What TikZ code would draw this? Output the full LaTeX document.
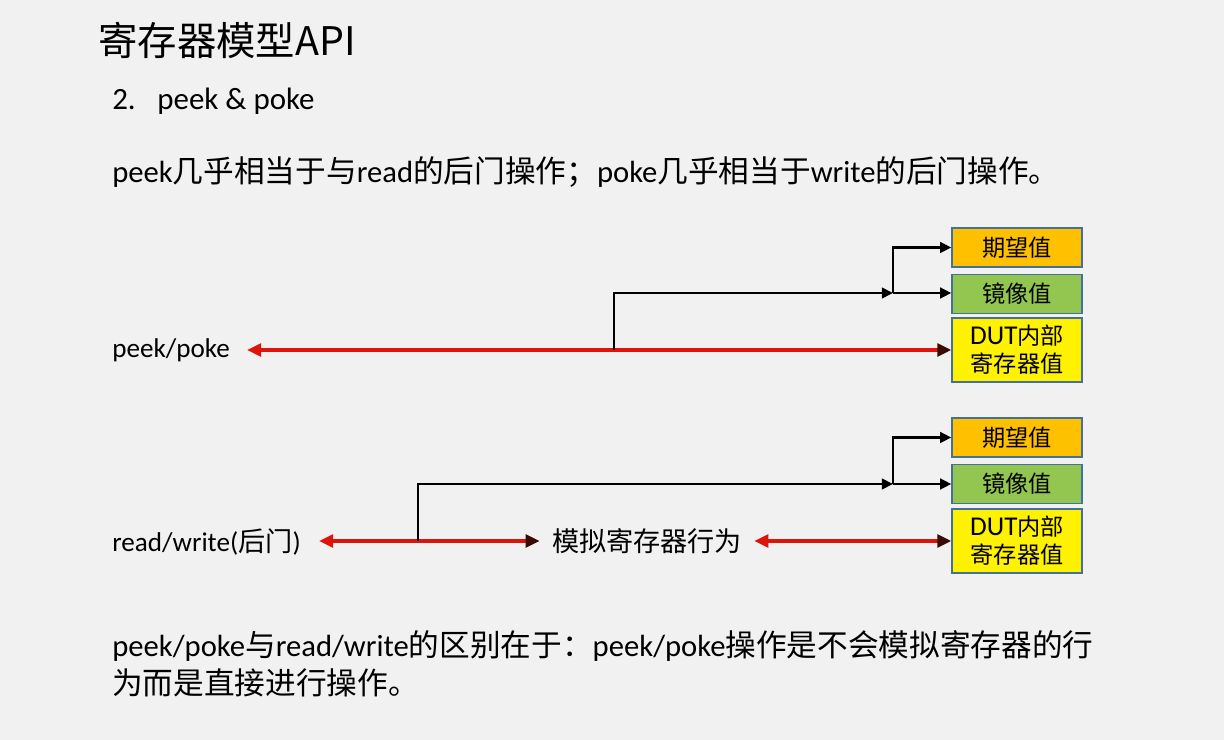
\documentclass[tikz,border=0pt]{standalone}
\usepackage{fontspec}
\setmainfont{Carlito}
\newfontfamily\cjk{Noto Sans CJK SC}
\usetikzlibrary{arrows.meta}

\definecolor{bgcol}{RGB}{241,241,241}
\definecolor{boxline}{RGB}{65,113,156}
\definecolor{expcol}{RGB}{255,192,0}
\definecolor{mircol}{RGB}{146,198,80}
\definecolor{arrred}{RGB}{222,20,10}
\definecolor{tipdark}{RGB}{60,10,5}

\newcommand{\titlefont}{\fontsize{28pt}{32pt}\selectfont\cjk}
\newcommand{\itemfont}{\fontsize{22pt}{26pt}\selectfont}
\newcommand{\bodyfont}{\fontsize{21.8pt}{27pt}\selectfont}
\newcommand{\labelfont}{\fontsize{19.3pt}{23pt}\selectfont}
\newcommand{\valfont}{\fontsize{16.5pt}{20pt}\selectfont}
\newcommand{\dut}{{\fontsize{19.3pt}{20pt}\selectfont DUT}}

\tikzset{
  redtip/.tip={Triangle[length=10pt,width=9pt,color=arrred]},
  darktip/.tip={Triangle[length=10pt,width=9pt,color=tipdark]},
  val/.style={draw=boxline, line width=0.9pt, minimum width=3.25cm, minimum height=0.975cm,
    inner sep=0pt, align=center, font=\valfont},
  txt/.style={anchor=west, inner sep=0pt, font=\bodyfont},
  lbl/.style={anchor=west, inner sep=0pt, font=\labelfont},
  redline/.style={draw=arrred, line width=2.8pt},
  blkline/.style={draw=black, line width=2.1pt, -{Triangle[length=8pt,width=7.5pt]}}
}

\begin{document}
\begin{tikzpicture}[x=0.025cm,y=-0.025cm]
  \fill[bgcol] (0,0) rectangle (1224,740);
  \useasboundingbox (0,0) rectangle (1224,740);

  \node[anchor=west,inner sep=0pt,font=\titlefont] (title) at (98,40) {寄存器模型API};
  \node[anchor=west,inner sep=0pt,font=\itemfont] (item) at (112,101) {2.\hspace{0.54cm}peek \& poke};
  \node[txt] (intro) at (112,172) {peek{\cjk 几乎相当于与}read{\cjk 的后门操作；}poke{\cjk 几乎相当于}write{\cjk 的后门操作。}};

  \node[val,fill=expcol] (exp1) at (1017,247.5) {\cjk 期望值};
  \node[val,fill=mircol] (mir1) at (1017,294) {\cjk 镜像值};
  \node[val,fill=yellow,minimum height=1.6cm] (dut1) at (1017,350) {\dut{\cjk 内部}\\{\cjk 寄存器值}};
  \node[lbl] (pp) at (112,350) {peek/poke};
  \coordinate (j1) at (614,350);
  \coordinate (k1) at (893,293);
  \draw[redline,{redtip}-{darktip}] ([xshift=0.42cm]pp.east) -- (dut1.west);
  \draw[blkline] (j1) |- (k1);
  \draw[blkline] (k1) -- (k1 -| mir1.west);
  \draw[blkline] (k1) |- (exp1.west);

  \node[val,fill=expcol] (exp2) at (1017,437.5) {\cjk 期望值};
  \node[val,fill=mircol] (mir2) at (1017,484) {\cjk 镜像值};
  \node[val,fill=yellow,minimum height=1.6cm] (dut2) at (1017,541) {\dut{\cjk 内部}\\{\cjk 寄存器值}};
  \node[lbl] (rw) at (112,542) {read/write({\cjk 后门})};
  \node[font=\labelfont\cjk,inner ysep=0pt,inner xsep=0.3cm] (sim) at (647,541) {模拟寄存器行为};
  \coordinate (j2) at (418,541);
  \coordinate (k2) at (893,484);
  \draw[redline,{redtip}-{darktip}] ([xshift=0.45cm]rw.east |- sim.west) -- (sim.west);
  \draw[redline,{redtip}-{darktip}] (sim.east) -- (dut2.west);
  \draw[blkline] (j2) |- (k2);
  \draw[blkline] (k2) -- (k2 -| mir2.west);
  \draw[blkline] (k2) |- (exp2.west);

  \node[txt,align=left] (note) at (112,664) {peek/poke{\cjk 与}read/write{\cjk 的区别在于：}peek/poke{\cjk 操作是不会模拟寄存器的行}\\{\cjk 为而是直接进行操作。}};
\end{tikzpicture}
\end{document}
